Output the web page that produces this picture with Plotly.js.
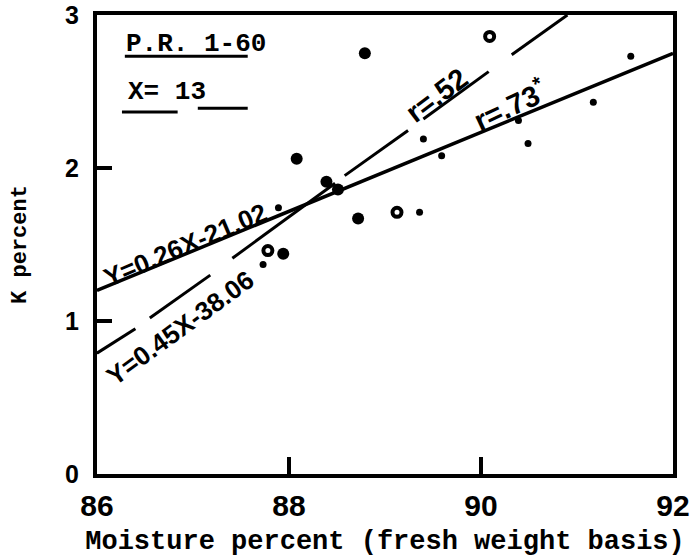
<!DOCTYPE html>
<html>
<head>
<meta charset="utf-8">
<script src="https://cdn.plot.ly/plotly-3.0.1.min.js"></script>
<style>html,body{margin:0;padding:0;background:#fff;}#chart{width:693px;height:557px;}</style>
</head>
<body>
<div id="chart"></div>
<script>
// Moisture percent (x) vs K percent (y)
const bigX   = [88.08, 88.39, 88.51, 88.72, 88.79, 87.94];
const bigY   = [2.06, 1.91, 1.86, 1.67, 2.75, 1.44];
const ringX  = [87.78, 89.125, 90.09];
const ringY  = [1.46, 1.71, 2.86];
const smallX = [87.89, 87.73, 89.36, 89.40, 89.59, 90.39, 90.49, 91.17, 91.56];
const smallY = [1.74, 1.37, 1.71, 2.19, 2.08, 2.31, 2.16, 2.43, 2.73];

// Regression line Y=0.26X-21.02 (as drawn)
const line1X = [86, 92];
const line1Y = [1.20, 2.75];
// Regression line Y=0.45X-38.06 (as drawn, broken for labels)
const line2X = [86, 86.40, null, 86.55, 87.18, null, 87.41, 88.48, null, 88.58, 89.24, null, 89.40, 90.08, null, 90.32, 90.90];
const line2Y = [0.79, 0.95, null, 1.02, 1.30, null, 1.41, 1.90, null, 1.95, 2.245, null, 2.32, 2.63, null, 2.74, 3.0];

const xTicks = [86, 88, 90, 92];
const yTicks = [0, 1, 2, 3];

const handFont = {family: 'Liberation Sans, Arial, sans-serif', size: 26, color: '#000', weight: 'bold'};
const typeFont = {family: 'Liberation Mono, Courier New, monospace', size: 26, color: '#000', weight: 'bold'};

const traces = [
  {x: line1X, y: line1Y, mode: 'lines', line: {color: '#000', width: 3.5}, hoverinfo: 'skip', showlegend: false},
  {x: line2X, y: line2Y, mode: 'lines', connectgaps: false, line: {color: '#000', width: 3}, hoverinfo: 'skip', showlegend: false},
  {x: bigX, y: bigY, mode: 'markers', marker: {color: '#000', size: 12, symbol: 'circle'}, showlegend: false},
  {x: ringX, y: ringY, mode: 'markers', marker: {color: '#000', size: 9, symbol: 'circle-open', line: {width: 4, color: '#000'}}, showlegend: false},
  {x: smallX, y: smallY, mode: 'markers', marker: {color: '#000', size: 7, symbol: 'circle'}, showlegend: false}
];

const layout = {
  width: 693, height: 557,
  margin: {l: 97, r: 20, t: 15, b: 83},
  paper_bgcolor: '#fff', plot_bgcolor: '#fff',
  showlegend: false,
  xaxis: {
    range: [86, 92], tickvals: xTicks, ticktext: xTicks.map(String),
    ticks: 'inside', ticklen: 17, tickwidth: 3.5, tickcolor: '#000',
    showline: true, linewidth: 4, linecolor: '#000', mirror: true,
    showgrid: false, zeroline: false,
    ticklabelstandoff: 2,
    tickfont: {family: 'Liberation Sans, Arial, sans-serif', size: 30, color: '#000', weight: 'bold'},
    title: {text: 'Moisture percent (fresh weight basis)', standoff: 34,
            font: {family: 'Liberation Mono, Courier New, monospace', size: 27, color: '#000', weight: 'bold'}}
  },
  yaxis: {
    range: [0, 3], tickvals: yTicks, ticktext: yTicks.map(String),
    ticks: 'inside', ticklen: 15, tickwidth: 3.5, tickcolor: '#000',
    showline: true, linewidth: 4, linecolor: '#000', mirror: true,
    showgrid: false, zeroline: false,
    ticklabelstandoff: 9,
    tickfont: {family: 'Liberation Sans, Arial, sans-serif', size: 25, color: '#000', weight: 'bold'},
    title: {text: 'K percent', standoff: 33,
            font: {family: 'Liberation Mono, Courier New, monospace', size: 22, color: '#000', weight: 'bold'}}
  },
  annotations: [
    {x: 86.92, y: 1.50, xref: 'x', yref: 'y', text: 'Y=0.26X-21.02', showarrow: false, textangle: -23, font: handFont},
    {x: 86.865, y: 0.955, xref: 'x', yref: 'y', text: 'Y=0.45X-38.06', showarrow: false, textangle: -36, font: handFont},
    {x: 89.54, y: 2.48, xref: 'x', yref: 'y', text: 'r=.52', showarrow: false, textangle: -37, font: Object.assign({}, handFont, {size: 29})},
    {x: 90.30, y: 2.42, xref: 'x', yref: 'y', text: 'r=.73<sup>*</sup>', showarrow: false, textangle: -25, font: Object.assign({}, handFont, {size: 29})},
    {x: 87.03, y: 2.81, xref: 'x', yref: 'y', text: 'P.R. 1-60', showarrow: false, font: typeFont},
    {x: 86.73, y: 2.50, xref: 'x', yref: 'y', text: 'X= 13', showarrow: false, font: typeFont}
  ],
  shapes: [
    {type: 'line', xref: 'x', yref: 'y', x0: 86.29, x1: 87.57, y0: 2.73, y1: 2.73, line: {color: '#000', width: 3}},
    {type: 'line', xref: 'x', yref: 'y', x0: 86.26, x1: 86.84, y0: 2.366, y1: 2.366, line: {color: '#000', width: 3}},
    {type: 'line', xref: 'x', yref: 'y', x0: 87.05, x1: 87.57, y0: 2.39, y1: 2.39, line: {color: '#000', width: 3}}
  ]
};

Plotly.newPlot('chart', traces, layout, {staticPlot: true, displayModeBar: false});
</script>
</body>
</html>
